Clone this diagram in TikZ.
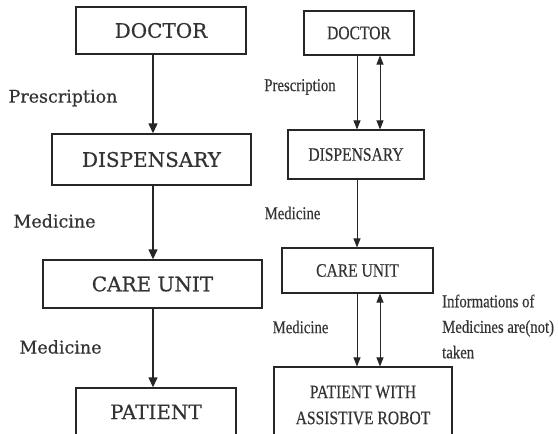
\documentclass[tikz,border=0pt]{standalone}
\usepackage{fontspec}
\setmainfont{DejaVu Serif}
\newfontfamily\lfont[FakeBold=0.6]{DejaVu Serif}
\newfontfamily\rfont[FakeStretch=0.82,FakeBold=0.4]{Liberation Serif}
\usetikzlibrary{arrows.meta,calc}
\begin{document}
\begin{tikzpicture}[x=1pt,y=-1pt,
  lbox/.style={draw=black!85,line width=1.4pt,rectangle,inner sep=0pt,
    font=\lfont\fontsize{20}{24}\selectfont,text=black!80},
  rbox/.style={draw=black!85,line width=1.1pt,rectangle,inner sep=0pt,
    font=\rfont\fontsize{19}{26}\selectfont,text=black!80,align=center},
  llab/.style={font=\lfont\fontsize{17.5}{21}\selectfont,text=black!80,inner sep=0pt},
  rlab/.style={font=\rfont\fontsize{18}{25.5}\selectfont,text=black!80,inner sep=0pt},
  larr/.style={line width=1.4pt,draw=black!85,-{Triangle[length=10pt,width=9pt]}},
  rarr/.style={line width=0.9pt,draw=black!85,-{Triangle[length=9pt,width=7pt]}},
  rdarr/.style={line width=0.9pt,draw=black!85,{Triangle[length=9pt,width=7pt]}-{Triangle[length=9pt,width=7pt]}}]
\useasboundingbox (0,0) rectangle (558,434);
\clip (0,0) rectangle (558,434);
% left column
\node[lbox,minimum width=170,minimum height=47] (ldoc) at (161,30.5) {DOCTOR};
\node[lbox,minimum width=199,minimum height=51] (ldisp) at (151.5,159.5) {DISPENSARY};
\node[lbox,minimum width=219,minimum height=48] (lcare) at (152.5,284) {CARE UNIT};
\node[lbox,minimum width=160,minimum height=48] (lpat) at (156,412) {PATIENT};
\coordinate (lax) at (153,0);
\draw[larr] (ldoc.south -| lax) -- (ldisp.north -| lax);
\draw[larr] (ldisp.south -| lax) -- (lcare.north -| lax);
\draw[larr] (lcare.south -| lax) -- (lpat.north -| lax);
\node[llab] (lp) at (63,98) {Prescription};
\node[llab] (lm1) at (54.5,221) {Medicine};
\node[llab] (lm2) at (60.5,347) {Medicine};
% right column
\node[rbox,minimum width=110,minimum height=44] (rdoc) at (359,33) {DOCTOR};
\node[rbox,minimum width=136,minimum height=49] (rdisp) at (356,154.5) {DISPENSARY};
\node[rbox,minimum width=151,minimum height=45] (rcare) at (357.5,270.5) {CARE UNIT};
\node[rbox,minimum width=178,minimum height=76] (rpat) at (363,405) {PATIENT WITH\\ASSISTIVE ROBOT};
\coordinate (rax) at (357,0);
\coordinate (rbx) at (380,0);
\draw[rarr] (rdoc.south -| rax) -- (rdisp.north -| rax);
\draw[rdarr] (rdoc.south -| rbx) -- (rdisp.north -| rbx);
\draw[rarr] (rdisp.south -| rax) -- (rcare.north -| rax);
\draw[rarr] (rcare.south -| rax) -- (rpat.north -| rax);
\draw[rdarr] (rcare.south -| rbx) -- (rpat.north -| rbx);
\node[rlab] (rp) at (300,87) {Prescription};
\node[rlab] (rm1) at (292.5,213) {Medicine};
\node[rlab] (rm2) at (300.5,327) {Medicine};
\node[rlab,anchor=west,align=left] (rinfo) at (442,326.5) {Informations of\\Medicines are(not)\\taken};
\end{tikzpicture}
\end{document}
